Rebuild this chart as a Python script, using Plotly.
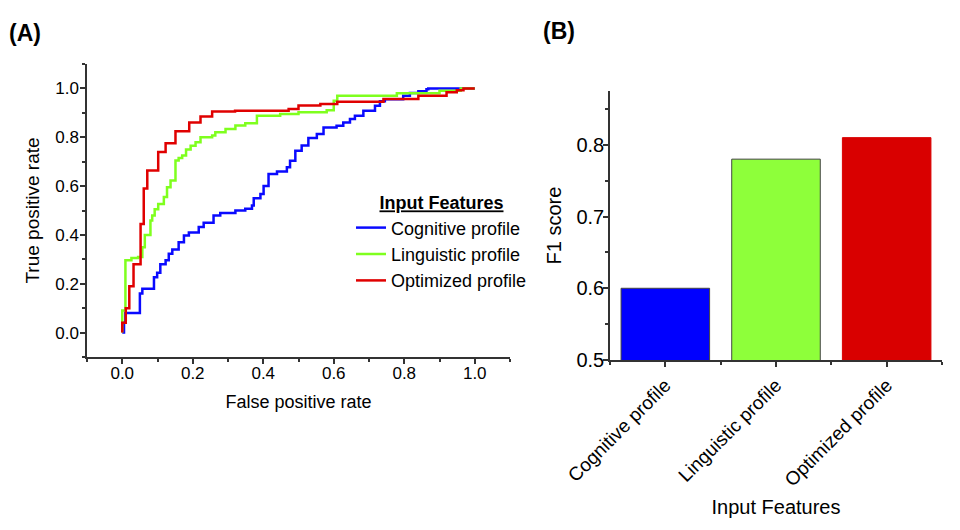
import plotly.graph_objects as go

# ROC curves (step corners)
cognitive_fpr = [0.0, 0.005, 0.009, 0.05, 0.057, 0.09, 0.099, 0.108, 0.123, 0.132, 0.142, 0.16, 0.175,
                 0.189, 0.217, 0.231, 0.259, 0.278, 0.321, 0.349, 0.368, 0.373, 0.392, 0.401, 0.415,
                 0.439, 0.467, 0.476, 0.491, 0.509, 0.528, 0.552, 0.571, 0.608, 0.627, 0.646, 0.66,
                 0.684, 0.717, 0.731, 0.745, 0.797, 0.816, 0.84, 0.863, 0.868, 1.0]
cognitive_tpr = [0.0, 0.04, 0.08, 0.16, 0.18, 0.227, 0.245, 0.28, 0.296, 0.323, 0.34, 0.37, 0.398,
                 0.41, 0.432, 0.45, 0.48, 0.49, 0.50, 0.507, 0.52, 0.55, 0.568, 0.60, 0.65,
                 0.66, 0.677, 0.704, 0.745, 0.766, 0.797, 0.813, 0.84, 0.847, 0.86, 0.875, 0.888,
                 0.909, 0.929, 0.947, 0.956, 0.97, 0.981, 0.988, 0.997, 1.0, 1.0]

linguistic_fpr = [0.0, 0.0, 0.009, 0.026, 0.045, 0.057, 0.064, 0.080, 0.085, 0.092, 0.102, 0.118,
                  0.127, 0.137, 0.151, 0.16, 0.17, 0.181, 0.194, 0.208, 0.222, 0.255, 0.264, 0.293,
                  0.321, 0.349, 0.382, 0.448, 0.50, 0.58, 0.60, 0.61, 0.779, 0.90, 0.96, 1.0]
linguistic_tpr = [0.0, 0.09, 0.296, 0.305, 0.31, 0.35, 0.40, 0.459, 0.48, 0.505, 0.527, 0.555,
                  0.595, 0.623, 0.705, 0.715, 0.725, 0.75, 0.765, 0.78, 0.80, 0.807, 0.82, 0.834,
                  0.848, 0.857, 0.888, 0.895, 0.902, 0.911, 0.95, 0.97, 0.98, 0.99, 1.0, 1.0]

optimized_fpr = [0.0, 0.0, 0.01, 0.02, 0.032, 0.052, 0.061, 0.071, 0.102, 0.123, 0.151, 0.19, 0.222,
                 0.255, 0.32, 0.472, 0.50, 0.562, 0.61, 0.741, 0.84, 0.92, 0.949, 0.968, 1.0]
optimized_tpr = [0.0, 0.04, 0.10, 0.19, 0.28, 0.445, 0.59, 0.664, 0.74, 0.775, 0.825, 0.86, 0.885,
                 0.905, 0.909, 0.916, 0.93, 0.936, 0.945, 0.957, 0.97, 0.984, 0.993, 1.0, 1.0]

profile_names = ["Cognitive profile", "Linguistic profile", "Optimized profile"]
line_colors = ["#0a0aff", "#7fff1e", "#e00000"]

# F1 scores
f1_scores = [0.60, 0.78, 0.81]
bar_colors = ["#0000ff", "#8eff3a", "#d90000"]
bar_edges = ["#444444", "#444444", "#d90000"]

FONT = "Liberation Sans, Arial, sans-serif"
AX = "#333333"
W, H = 960, 530
OFF = 8  # page body margin


def px(x):
    return (x - OFF) / W


def py(y):
    return 1 - (y - OFF) / H


fig = go.Figure()

curves = [(cognitive_fpr, cognitive_tpr), (linguistic_fpr, linguistic_tpr), (optimized_fpr, optimized_tpr)]
for (fpr, tpr), name, col in zip(curves, profile_names, line_colors):
    fig.add_trace(go.Scatter(x=fpr, y=tpr, mode="lines", name=name,
                             line=dict(color=col, width=2.5, shape="hv"),
                             xaxis="x", yaxis="y"))

fig.add_trace(go.Bar(x=list(range(len(profile_names))), y=f1_scores, width=0.8,
                     marker=dict(color=bar_colors, line=dict(color=bar_edges, width=1)),
                     showlegend=False, xaxis="x2", yaxis="y2"))

common = dict(showline=True, linecolor=AX, linewidth=1.5, ticks="outside", ticklen=5,
              tickwidth=1.5, tickcolor=AX, showgrid=False, zeroline=False, automargin=False)
minor_common = dict(ticks="outside", ticklen=3, tickcolor=AX, tickwidth=1.5)

fig.update_layout(
    width=W, height=H,
    margin=dict(l=0, r=0, t=0, b=0),
    paper_bgcolor="white", plot_bgcolor="white",
    font=dict(family=FONT, color="black"),
    xaxis=dict(domain=[px(87), px(510)], anchor="y", range=[-0.1, 1.1], tick0=0, dtick=0.2,
               tickformat=".1f", tickfont=dict(size=17), ticklabelstandoff=-5,
               minor=dict(dtick=0.1, tick0=0, **minor_common),
               title=dict(text="False positive rate", font=dict(size=18), standoff=13), **common),
    yaxis=dict(domain=[py(357), py(64)], anchor="x", range=[-0.1, 1.1], tick0=0, dtick=0.2,
               tickformat=".1f", tickfont=dict(size=17), ticklabelstandoff=-2,
               minor=dict(dtick=0.1, tick0=0, **minor_common),
               title=dict(text="True positive rate", font=dict(size=19), standoff=11), **common),
    xaxis2=dict(domain=[px(610), px(942)], anchor="y2", range=[-0.5, 2.5],
                tickvals=list(range(len(profile_names))), ticktext=profile_names, tickangle=-45,
                tickfont=dict(size=19),
                minor=dict(tickmode="linear", tick0=-0.5, dtick=1, **minor_common),
                title=dict(text="Input Features", font=dict(size=20), standoff=11), **common),
    yaxis2=dict(domain=[py(360), py(91)], anchor="x2", range=[0.5, 0.875], tick0=0.5, dtick=0.1,
                tickformat=".1f", tickfont=dict(size=20), ticklabelstandoff=-5,
                minor=dict(dtick=0.05, tick0=0.5, **minor_common),
                title=dict(text="F1 score", font=dict(size=20), standoff=9), **common),
    legend=dict(x=px(351), y=py(186), xanchor="left", yanchor="top", bgcolor="rgba(0,0,0,0)",
                font=dict(size=18), tracegroupgap=0,
                title=dict(text="<b><u>Input Features</u></b>", side="top center", font=dict(size=18))),
    annotations=[
        dict(text="<b>(A)</b>", x=px(7), y=py(33), xref="paper", yref="paper",
             xanchor="left", yanchor="middle", showarrow=False, font=dict(size=23)),
        dict(text="<b>(B)</b>", x=px(541), y=py(31), xref="paper", yref="paper",
             xanchor="left", yanchor="middle", showarrow=False, font=dict(size=23)),
    ],
)

fig.write_html("out.html")
